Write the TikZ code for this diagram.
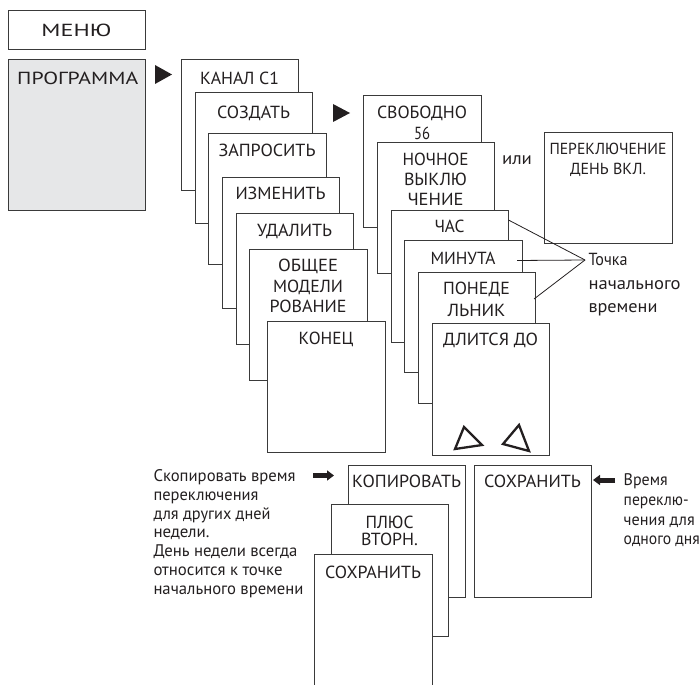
\documentclass[tikz,border=0pt]{standalone}
\usepackage{fontspec}
\setmainfont{PT Sans}
\usetikzlibrary{arrows.meta}
\definecolor{linec}{HTML}{3A3A3A}
\definecolor{txt}{HTML}{231F20}
\definecolor{panel}{HTML}{E6E7E8}
\newcommand{\W}[2]{\resizebox{#1pt}{\height}{#2}}
\tikzset{
  card/.style={draw=linec, line width=0.9pt, fill=white, rectangle, inner sep=0pt},
  lab/.style={font=\fontsize{17.5}{20}\selectfont, text=txt, inner sep=0pt, anchor=north, align=center},
  note/.style={font=\fontsize{16.8}{18.8}\selectfont, text=txt, inner sep=0pt, anchor=north west, align=left},
  rnote/.style={font=\fontsize{16.8}{19.7}\selectfont, text=txt, inner sep=0pt, anchor=north west, align=left},
  bignote/.style={font=\fontsize{17.5}{23.5}\selectfont, text=txt, inner sep=0pt, anchor=north west, align=left},
  tri/.style={fill=txt, draw=none},
  lead/.style={draw=txt, line width=0.8pt},
  hollow/.style={draw=txt, line width=2.3pt, line join=miter},
  fat/.style={draw=txt, line width=5pt, -{Triangle[length=7pt,width=10pt]}},
}
\newcommand{\crd}[5]{\node[card, minimum width=#4pt-#2pt, minimum height=#5pt-#3pt] (#1) at ({(#2+#4)/2},{(#3+#5)/2}) {};}
\begin{document}
\begin{tikzpicture}[x=1pt,y=-1pt]
\useasboundingbox (0,0) rectangle (700,684);
% menu
\crd{menu}{8}{10}{145}{49}
\node[lab] (menuL) at (menu.north |- 0,23.8) {\W{70}{МЕНЮ}};
\node[card, fill=panel, minimum width=137pt, minimum height=151pt] (prog) at (76.5,134.5) {};
\node[lab, anchor=north west] (progL) at (17,71.7) {\W{121}{ПРОГРАММА}};
\fill[tri] (155,65) -- (155,84) -- (172,74.5) -- cycle;
% first stack
\crd{kanal}{181}{59}{298}{190}
\node[lab] (kanalL) at (kanal.north |- 0,71.7) {\W{79}{КАНАЛ C1}};
\crd{sozd}{195}{92}{312}{223}
\node[lab] (sozdL) at (sozd.north |- 0,106) {\W{73}{СОЗДАТЬ}};
\crd{zapr}{208}{133}{326}{264}
\node[lab] (zaprL) at (zapr.north |- 0,143.6) {\W{97}{ЗАПРОСИТЬ}};
\crd{izm}{222}{177}{339}{308}
\node[lab] (izmL) at (izm.north |- 0,186.8) {\W{90}{ИЗМЕНИТЬ}};
\crd{udal}{236}{213}{353}{344}
\node[lab] (udalL) at (udal.north |- 0,223.4) {\W{75}{УДАЛИТЬ}};
\crd{obsh}{249}{249}{367}{380}
\node[lab] (obshL) at (obsh.north |- 0,259) {\W{60}{ОБЩЕЕ}\\[0.5pt]\W{70}{МОДЕЛИ}\\[0.5pt]\W{77}{РОВАНИЕ}};
\crd{konec}{267}{321}{385}{452}
\node[lab] (konecL) at (konec.north |- 0,331.9) {\W{55}{КОНЕЦ}};
\fill[tri] (333,104) -- (333,122) -- (350,113) -- cycle;
% second stack
\crd{svob}{363}{95}{481}{227}
\node[lab] (svobL) at (svob.north |- 0,105.4) {\W{90}{СВОБОДНО}\\[1.5pt]\W{16}{56}};
\crd{noch}{377}{142}{494}{273}
\node[lab] (nochL) at (noch.north |- 0,152.9) {\W{66}{НОЧНОЕ}\\\W{63}{ВЫКЛЮ}\\\W{56}{ЧЕНИЕ}};
\crd{chas}{391}{210}{508}{342}
\node[lab] (chasL) at (chas.north |- 0,219.9) {\W{30}{ЧАС}};
\crd{minu}{404}{240}{522}{372}
\node[lab] (minuL) at (minu.north |- 0,251.4) {\W{65}{МИНУТА}};
\crd{pon}{418}{272}{535}{403}
\node[lab] (ponL) at (pon.north |- 0,281.9) {\W{67}{ПОНЕДЕ}\\[2pt]\W{58}{ЛЬНИК}};
\crd{dlit}{432}{323}{549}{455}
\node[lab] (dlitL) at (dlit.north |- 0,332.9) {\W{95}{ДЛИТСЯ ДО}};
\draw[hollow] (455,449) -- (464,427) -- (482,445) -- cycle;
\draw[hollow] (503,444) -- (519,425) -- (529,451) -- cycle;
% or
\node[font=\fontsize{17.5}{20}\selectfont, text=txt, inner sep=0pt, anchor=base] (ili) at (517,165) {\W{30}{или}};
\crd{perek}{544}{132}{672}{243}
\node[lab, font=\fontsize{16}{20}\selectfont] (perekL) at (perek.north |- 0,142.9) {\W{117}{ПЕРЕКЛЮЧЕНИЕ}\\\W{76}{ДЕНЬ ВКЛ.}};
% leaders
\coordinate (tp) at (585,260);
\node[bignote] (tochka) at (588.3,253.3) {\W{39}{Точка}\\\W{92}{начального}\\\W{69}{времени}};
\draw[lead] (chas.east |- 0,220) -- (tp);
\draw[lead] (517,260.5) -- (tp);
\draw[lead] (534,299) -- (tp);
% bottom
\crd{kopir}{348}{465}{465}{597}
\node[lab] (kopirL) at (kopir.north |- 0,474.9) {\W{109}{КОПИРОВАТЬ}};
\crd{plus}{331}{504}{448}{636}
\node[lab] (plusL) at (plus.north |- 0,515.5) {\W{48}{ПЛЮС}\\[-2.5pt]\W{57}{ВТОРН.}};
\crd{sohrA}{314}{554}{432}{700}
\node[lab] (sohrAL) at (sohrA.north |- 0,565.4) {\W{96}{СОХРАНИТЬ}};
\crd{sohrB}{474}{465}{591}{597}
\node[lab] (sohrBL) at (sohrB.north |- 0,474.9) {\W{97}{СОХРАНИТЬ}};
\node[note] (copyN) at (153.3,469.3) {\W{142}{Скопировать время}\\\W{105}{переключения}\\\W{117}{для других дней}\\\W{56}{недели.}\\\W{144}{День недели всегда}\\\W{129}{относится к точке}\\\W{150}{начального времени}};
\node[rnote] (timeN) at (623.5,473.5) {\W{44}{Время}\\\W{65}{переклю-}\\\W{71}{чения для}\\\W{76}{одного дня}};
\coordinate (fa1) at (313,475.5);
\coordinate (fa2) at (334,475.5);
\draw[fat] (fa1) -- (fa2);
\coordinate (fb1) at (615,480);
\coordinate (fb2) at (593,480);
\draw[fat] (fb1) -- (fb2);
\end{tikzpicture}
\end{document}
